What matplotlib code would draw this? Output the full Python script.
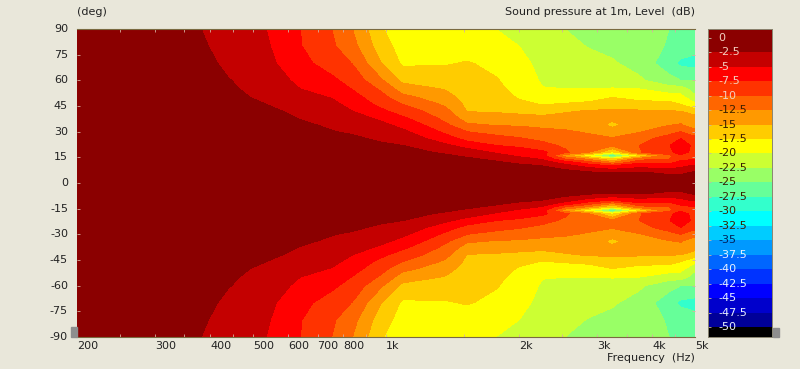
#!/usr/bin/env python3
"""Directivity map: sound pressure level against frequency and off-axis angle."""

import numpy as np
import matplotlib
matplotlib.use("Agg")
import matplotlib.pyplot as plt
from matplotlib.colors import ListedColormap
from matplotlib.patches import Rectangle

BG = "#E9E7DA"
TXT = "#222222"

FREQS = [200, 270, 382, 440, 536, 640, 754, 840, 970, 1089, 1366, 1526, 1770,
         2000, 2260, 2540, 2880, 3250, 3740, 4370, 4640, 5000]
ANGLES = [0, 6, 10, 12, 14, 16, 18, 22, 26, 30, 34, 38, 42, 46, 50, 55, 60, 70, 80, 90]

# one row per frequency, values at ANGLES (dB), upper half only, map is mirrored
SPL = [
    [0, 0, 0, 0, 0, 0, 0, -.1, -.1, -.2, -.2, -.3, -.4, -.5, -.6, -.7, -.8, -1.0, -1.1, -1.2],
    [0, 0, 0, 0, 0, 0, 0, -.1, -.2, -.3, -.3, -.4, -.5, -.6, -.7, -.8, -1.0, -1.2, -1.4, -1.5],
    [0, 0, 0, 0, 0, 0, -.1, -.2, -.3, -.4, -.5, -.6, -.7, -.9, -1.1, -1.2, -1.4, -1.8, -2.2, -2.5],
    [0, 0, 0, 0, -.1, -.1, -.2, -.3, -.5, -.8, -1.0, -1.2, -1.4, -1.7, -2.0, -2.2, -2.4, -3.0, -3.4, -3.7],
    [0, 0, -.1, -.1, -.2, -.3, -.4, -.6, -.9, -1.2, -1.4, -1.7, -2.0, -2.5, -2.9, -3.3, -3.7, -4.3, -4.7, -5.0],
    [0, 0, -.1, -.2, -.3, -.4, -.6, -.9, -1.3, -1.8, -2.2, -2.6, -3.1, -3.7, -4.3, -5.0, -5.6, -6.8, -7.4, -7.5],
    [0, -.1, -.2, -.3, -.4, -.6, -.8, -1.3, -1.9, -2.4, -2.8, -3.3, -3.8, -4.4, -5.1, -6.2, -7.0, -8.6, -9.6, -10.0],
    [0, -.1, -.3, -.5, -.7, -.9, -1.1, -1.5, -2.1, -2.8, -3.4, -4.2, -5.0, -5.8, -6.6, -7.6, -8.5, -10.1, -11.7, -12.5],
    [0, -.2, -.5, -.7, -.9, -1.1, -1.5, -2.1, -2.9, -3.6, -4.4, -5.4, -6.9, -8.1, -9.0, -10.3, -12.0, -14.8, -16.3, -17.2],
    [0, -.2, -.5, -.7, -1.0, -1.3, -1.7, -2.5, -3.5, -4.5, -5.7, -7.1, -8.6, -10.0, -11.7, -13.7, -15.6, -17.9, -18.5, -19.0],
    [0, -.3, -.8, -1.2, -1.6, -2.2, -2.9, -4.6, -6.4, -8.1, -9.6, -10.8, -11.8, -13.0, -14.1, -15.2, -16.2, -17.7, -19.0, -19.5],
    [0, -.4, -1.0, -1.5, -2.1, -2.9, -3.8, -6.0, -8.4, -10.0, -12.1, -13.8, -15.1, -15.6, -16.0, -16.4, -16.8, -17.3, -18.9, -19.4],
    [0, -.5, -1.4, -2.1, -3.0, -4.2, -5.3, -7.5, -9.0, -11.0, -12.7, -14.3, -15.2, -15.8, -16.4, -16.9, -17.3, -18.2, -19.2, -20.0],
    [0, -.6, -1.9, -3.0, -4.2, -5.4, -6.3, -8.0, -9.8, -11.3, -12.8, -14.2, -15.6, -17.0, -17.7, -18.3, -18.6, -19.2, -20.0, -21.3],
    [0, -.8, -2.5, -4.0, -5.2, -6.5, -7.0, -9.2, -10.6, -12.0, -13.0, -14.4, -16.0, -17.6, -18.7, -19.9, -20.3, -20.8, -21.5, -22.0],
    [0, -1.3, -4.0, -6.0, -10.0, -14.0, -9.5, -10.5, -11.3, -12.2, -13.3, -14.4, -15.2, -17.3, -18.6, -20.0, -20.5, -21.3, -22.0, -22.5],
    [0, -2.0, -6.0, -9.0, -13.0, -20.0, -12.5, -11.5, -11.8, -12.8, -13.4, -14.0, -14.8, -16.9, -18.5, -20.0, -20.5, -21.8, -22.6, -23.0],
    [-.3, -2.5, -7.5, -12.5, -17.5, -28.0, -18.0, -12.0, -12.3, -13.7, -15.7, -14.3, -14.7, -15.8, -17.5, -19.9, -20.8, -22.3, -23.0, -23.5],
    [-.2, -2.2, -6.0, -8.0, -11.0, -18.0, -10.2, -10.0, -10.8, -12.7, -13.4, -14.0, -14.7, -16.6, -18.3, -20.0, -22.2, -23.2, -23.7, -24.0],
    [-.2, -3.0, -6.5, -8.0, -10.0, -11.0, -7.8, -7.6, -9.0, -10.8, -12.6, -13.5, -14.9, -16.8, -18.5, -21.5, -24.0, -26.8, -25.3, -25.0],
    [-.2, -3.0, -5.6, -7.0, -8.0, -7.7, -6.9, -6.5, -7.5, -10.0, -12.4, -13.0, -15.0, -17.5, -19.0, -21.5, -25.0, -28.0, -26.0, -25.5],
    [-.2, -2.0, -4.6, -6.3, -7.6, -8.0, -8.0, -8.0, -9.0, -12.0, -13.3, -14.0, -16.5, -19.5, -22.0, -23.5, -25.0, -28.5, -26.5, -26.0],
]

LEVELS = [1.5, -2.5, -5, -7.5, -10, -12.5, -15, -17.5, -20, -22.5, -25, -27.5, -30,
          -32.5, -35, -37.5, -40, -42.5, -45, -47.5, -50, -51.7]
# first colour is the band right below LEVELS[0]
BAND_COLORS = ["#8B0000", "#C40000", "#FF0000", "#FF3300", "#FF6600", "#FF9900", "#FFCC00",
               "#FFFF00", "#CCFF33", "#99FF66", "#66FF99", "#33FFCC", "#00FFFF", "#00CCFF",
               "#0099FF", "#0066FF", "#0033FF", "#0000FF", "#0000CC", "#000099", "#000000"]

BAR_TICKS = [0, -2.5, -5, -7.5, -10, -12.5, -15, -17.5, -20, -22.5, -25, -27.5, -30,
             -32.5, -35, -37.5, -40, -42.5, -45, -47.5, -50]
BAR_LABELS = ["0", "-2.5", "-5", "-7.5", "-10", "-12.5", "-15", "-17.5", "-20", "-22.5",
              "-25", "-27.5", "-30", "-32.5", "-35", "-37.5", "-40", "-42.5", "-45",
              "-47.5", "-50"]
BAR_TEXT = ["#F3D0C0"] * 5 + ["#3A2000"] * 10 + ["#E8F0FF"] * 6
BAR_TEXT[14] = "#00205A"

X_LABEL_POS = [200, 300, 400, 500, 600, 700, 800, 1000, 2000, 3000, 4000, 5000]
X_LABELS = ["200", "300", "400", "500", "600", "700", "800", "1k", "2k", "3k", "4k", "5k"]
X_MINOR = [250, 300, 350, 400, 450, 500, 600, 700, 800, 900, 1000, 1500, 2000, 2500,
           3000, 3500, 4000, 4500]
Y_TICKS = [90, 75, 60, 45, 30, 15, 0, -15, -30, -45, -60, -75, -90]

W, H = 800, 369


def px_axes(fig, x0, y0, x1, y1):
    return fig.add_axes([x0 / W, 1 - y1 / H, (x1 - x0) / W, (y1 - y0) / H])


def main():
    fig = plt.figure(figsize=(W / 100, H / 100), dpi=100, facecolor=BG)

    upper = np.array(SPL).T
    angles = np.array(ANGLES)
    ang_full = np.concatenate([-angles[:0:-1], angles])
    z_full = np.vstack([upper[:0:-1], upper])

    ax = px_axes(fig, 77, 29, 695, 337)
    ax.contourf(FREQS, ang_full, z_full, levels=LEVELS[::-1], colors=BAND_COLORS[::-1])
    ax.set_xscale("log")
    ax.set_xlim(200, 5000)
    ax.set_ylim(-90, 90)
    for side, spine in ax.spines.items():
        spine.set_visible(side in ("top", "bottom"))
        spine.set_color("#7A6A40")
        spine.set_linewidth(0.8)

    # inward ticks, pale, drawn on top of the map
    ax.set_xticks(X_MINOR, labels=[])
    ax.tick_params(axis="x", which="major", direction="in", top=True, bottom=True,
                   length=2.5, width=0.6, color="#D8B0A0")
    ax.minorticks_off()
    ax.set_yticks(Y_TICKS, labels=[])
    ax.tick_params(axis="y", direction="in", left=True, right=True, length=2.5,
                   width=0.6, color="#D8B0A0")

    trans_x = ax.get_xaxis_transform()
    for pos, lab in zip(X_LABEL_POS, X_LABELS):
        ax.text(pos, -9 / 308, lab, transform=trans_x, ha="left", va="center",
                fontsize=8, color=TXT)
    trans_y = ax.get_yaxis_transform()
    for val in Y_TICKS:
        ax.text(-9 / 618, val, str(val), transform=trans_y, ha="right", va="center",
                fontsize=8, color=TXT)

    fig.text(77 / W, 1 - 12 / H, "(deg)", ha="left", va="center", fontsize=8, color=TXT)
    fig.text(695 / W, 1 - 12 / H, "Sound pressure at 1m, Level  (dB)", ha="right",
             va="center", fontsize=8, color=TXT)
    fig.text(695 / W, 1 - 358 / H, "Frequency  (Hz)", ha="right", va="center",
             fontsize=8, color=TXT)

    # colour bar
    cax = px_axes(fig, 708, 29, 772, 337)
    cax.pcolormesh([0, 1], LEVELS[::-1], np.arange(21)[:, None], shading="flat",
                   cmap=ListedColormap(BAND_COLORS[::-1]))
    cax.set_xlim(0, 1)
    cax.set_ylim(LEVELS[-1], LEVELS[0])
    cax.set_xticks([])
    cax.set_yticks(BAR_TICKS, labels=[])
    cax.tick_params(axis="y", direction="in", length=2.5, width=0.6, color="#C8B8A0")
    for spine in cax.spines.values():
        spine.set_color("#8A8570")
        spine.set_linewidth(0.7)
    for val, lab, col in zip(BAR_TICKS, BAR_LABELS, BAR_TEXT):
        cax.text(10 / 64, val, lab, ha="left", va="center", fontsize=8, color=col)

    # little grey slider handles
    fig.add_artist(Rectangle((71 / W, 1 - 337 / H), 6 / W, 10 / H, color="#8E8E8E",
                             transform=fig.transFigure))
    fig.add_artist(Rectangle((773 / W, 1 - 337 / H), 6 / W, 9 / H, color="#8E8E8E",
                             transform=fig.transFigure))

    fig.savefig("out.png", dpi=100, facecolor=BG)


if __name__ == "__main__":
    main()
